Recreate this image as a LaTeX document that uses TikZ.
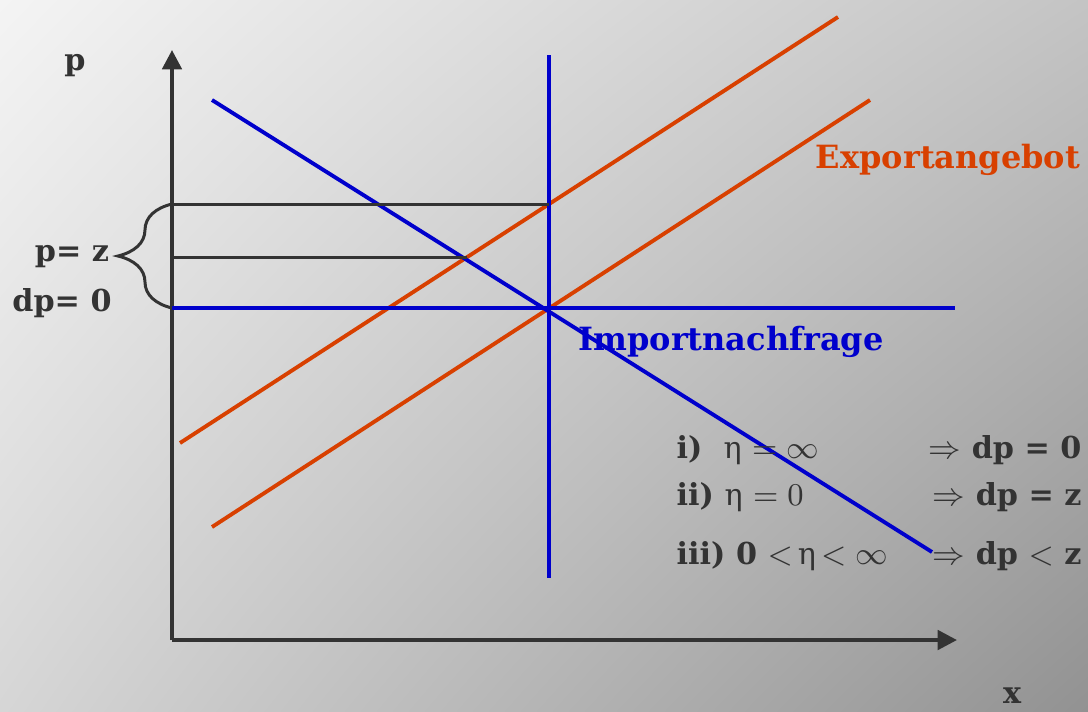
\documentclass[tikz,border=0pt]{standalone}
\usepackage{fontspec}
\setmainfont{DejaVu Serif}
\usetikzlibrary{arrows.meta, positioning, decorations.pathreplacing, shadings}
\definecolor{EXred}{RGB}{216,64,0}
\definecolor{IMblue}{RGB}{0,0,204}
\definecolor{AXgray}{RGB}{51,51,51}
\definecolor{BGul}{RGB}{244,244,244}
\definecolor{BGur}{RGB}{196,196,196}
\definecolor{BGll}{RGB}{214,214,214}
\definecolor{BGlr}{RGB}{146,146,146}
\newcommand{\eeta}{{\mdseries η}}

\begin{document}
\begin{tikzpicture}[x=0.01cm, y=-0.01cm,
    font=\fontsize{8.6}{10}\selectfont\bfseries,
    axis/.style={AXgray, line width=1.1pt, -{Triangle[length=5.5pt, width=5.5pt]}},
    supply/.style={EXred, line width=1.1pt},
    demand/.style={IMblue, line width=1.1pt},
    level/.style={AXgray, line width=0.85pt},
    curlybrace/.style={AXgray, line width=0.85pt, decorate,
        decoration={brace, amplitude=0.54cm}},
    txt/.style={AXgray, inner sep=0pt},
    curvelabel/.style={inner sep=0pt, font=\fontsize{9.1}{11}\selectfont\bfseries}]
        \shade[upper left=BGul, upper right=BGur,
               lower left=BGll, lower right=BGlr]
               (0,0) rectangle (1088,711);
        \useasboundingbox (0,0) rectangle (1088,711);
        % axes
        \coordinate (O) at (172,640);
        \coordinate (ytip) at (172,50);
        \coordinate (xtip) at (957,640);
        \draw[axis] (O) -- (ytip);
        \draw[axis] (O) -- (xtip);
        \node[txt] (plabel) at (75,66) {p};
        \node[txt] (xlabel) at (1012,696) {x};
        % points
        \coordinate (E) at (549,308);
        \coordinate (Ptop) at (549,204);
        \coordinate (Pmid) at (467,257);
        % Exportangebot
        \draw[supply] (180,443) -- (838,17);
        \draw[supply] (212,527) -- (870,100);
        % Importnachfrage
        \draw[demand] (212,100) -- (932,552);
        \draw[demand] (549,55) -- (549,578);
        \draw[demand] (O |- E) -- (955,308);
        % price levels
        \draw[level] (O |- Ptop) -- (Ptop);
        \draw[level] (O |- Pmid) -- (Pmid);
        \draw[curlybrace] (O |- E) -- (O |- Ptop);
        \node[txt] (pz) at (72,257) {p= z};
        \node[txt] (dp) at (62,303) {dp= 0};
        \node[curvelabel, EXred] (export) at (948,160) {Exportangebot};
        \node[curvelabel, IMblue] (import) at (731,342) {Importnachfrage};
        % cases
        \node[txt, anchor=west] (c1) at (676,450) {i)\ \ \eeta\ $=\infty$};
        \node[txt, anchor=west] (c2) at (676,497) {ii) \eeta\ $=0$};
        \node[txt, anchor=west] (c3) at (676,556) {iii) 0 $<$\,\eeta\,$<\infty$};
        \node[txt, anchor=west] (r1) at (928,450) {$\Rightarrow$ dp = 0};
        \node[txt, anchor=west] (r2) at (932,497) {$\Rightarrow$ dp = z};
        \node[txt, anchor=west] (r3) at (932,556) {$\Rightarrow$ dp $<$ z};
      \end{tikzpicture}
\end{document}
